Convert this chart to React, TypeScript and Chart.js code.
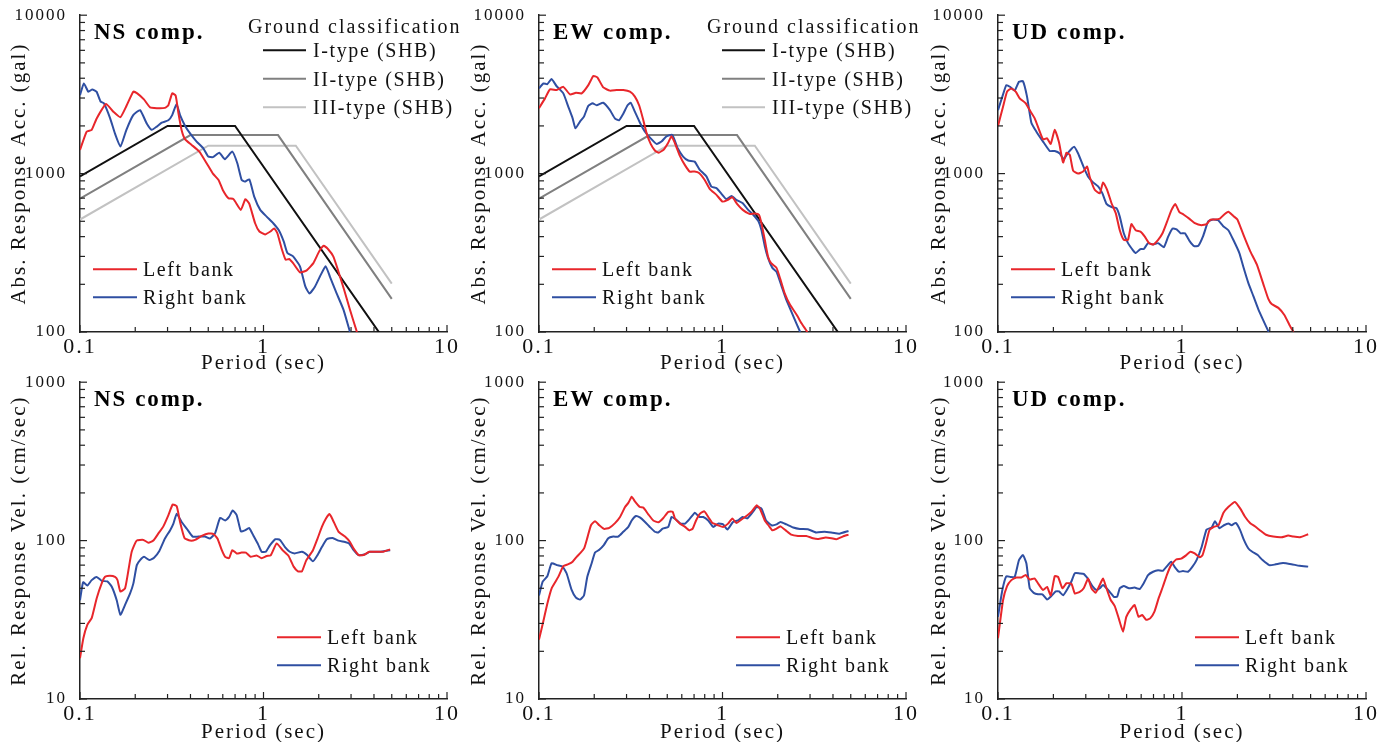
import React, { useEffect, useRef } from 'react';
import { Chart, registerables } from 'chart.js';
Chart.register(...registerables);

type Pt = [number, number];

const FONT = '"Liberation Serif", "Times New Roman", serif';

// ---- tick values & labels ----
const periodTicks = [0.1, 0.2, 0.3, 0.4, 0.5, 0.6, 0.7, 0.8, 0.9, 1, 2, 3, 4, 5, 6, 7, 8, 9, 10];
const periodMajor = [0.1, 1, 10];
const accTicks = [100, 200, 300, 400, 500, 600, 700, 800, 900, 1000, 2000, 3000, 4000, 5000, 6000, 7000, 8000, 9000, 10000];
const accMajor = [100, 1000, 10000];
const velTicks = [10, 20, 30, 40, 50, 60, 70, 80, 90, 100, 200, 300, 400, 500, 600, 700, 800, 900, 1000];
const velMajor = [10, 100, 1000];

// ---- SHB design spectra (corner points) ----
const shbType1: Pt[] = [[0.1, 961], [0.3, 2000], [0.7, 2000], [5, 76.4]];
const shbType2: Pt[] = [[0.1, 694], [0.4, 1750], [1.2, 1750], [5, 162]];
const shbType3: Pt[] = [[0.1, 513], [0.5, 1500], [1.5, 1500], [5, 202]];

// ---- Absolute response acceleration (gal) ----
const nsAccLeft: Pt[] = [[0.1,1410],[0.1087,1840],[0.1158,1890],[0.1233,2230],[0.1386,2750],[0.152,2460],[0.166,2270],[0.179,2670],[0.1954,3290],[0.205,3210],[0.223,2940],[0.241,2620],[0.262,2590],[0.29,2600],[0.303,2700],[0.318,3210],[0.332,3110],[0.344,2400],[0.358,1880],[0.374,1645],[0.406,1517],[0.447,1377],[0.49,1162],[0.53,1000],[0.569,912],[0.6,789],[0.644,700],[0.686,690],[0.752,590],[0.797,690],[0.837,644],[0.9,486],[0.95,431],[1.02,413],[1.09,431],[1.144,451],[1.19,420],[1.254,338],[1.32,286],[1.38,289],[1.45,272],[1.58,238],[1.72,245],[1.87,272],[2.01,322],[2.13,350],[2.25,333],[2.4,300],[2.56,241],[2.75,185],[2.96,138],[3.23,100]];
const nsAccRight: Pt[] = [[0.1,3130],[0.105,3706],[0.111,3290],[0.1167,3400],[0.123,3290],[0.1296,2846],[0.135,2780],[0.146,2233],[0.155,1794],[0.166,1480],[0.179,1890],[0.195,2340],[0.2125,2516],[0.231,2073],[0.246,1890],[0.262,1980],[0.279,2096],[0.303,2170],[0.318,2340],[0.336,2750],[0.351,2340],[0.374,2000],[0.398,1794],[0.432,1593],[0.47,1445],[0.5,1281],[0.53,1270],[0.574,1356],[0.616,1233],[0.676,1377],[0.72,1162],[0.76,912],[0.79,890],[0.837,920],[0.89,716],[0.96,590],[1.04,535],[1.13,486],[1.21,440],[1.29,372],[1.35,315],[1.45,300],[1.58,260],[1.69,194],[1.78,175],[1.91,194],[2.03,224],[2.18,260],[2.3,224],[2.5,176],[2.73,138],[2.96,100]];
const ewAccLeft: Pt[] = [[0.1,2590],[0.1078,2985],[0.1148,3400],[0.1248,3370],[0.1357,3530],[0.1475,3160],[0.159,3240],[0.1708,3210],[0.1857,3620],[0.1977,4130],[0.208,4050],[0.224,3500],[0.2436,3340],[0.265,3370],[0.288,3370],[0.313,3290],[0.333,3060],[0.352,2680],[0.37,2180],[0.386,1794],[0.406,1540],[0.428,1400],[0.45,1356],[0.479,1420],[0.505,1560],[0.527,1720],[0.55,1560],[0.585,1300],[0.623,1135],[0.663,1030],[0.705,1030],[0.745,1010],[0.8,912],[0.854,797],[0.927,734],[1.0,666],[1.07,683],[1.13,710],[1.2,644],[1.29,590],[1.4,557],[1.5,560],[1.58,550],[1.63,486],[1.7,382],[1.77,300],[1.84,272],[1.97,254],[2.07,214],[2.18,176],[2.33,149],[2.54,128],[2.7,113],[2.9,100]];
const ewAccRight: Pt[] = [[0.1,3450],[0.1056,3706],[0.111,3670],[0.117,3950],[0.1248,3560],[0.1357,3210],[0.1445,2640],[0.1525,2233],[0.158,1930],[0.1673,2130],[0.1758,2290],[0.1857,2680],[0.196,2780],[0.206,2700],[0.224,2800],[0.2436,2516],[0.259,2233],[0.273,2170],[0.288,2390],[0.304,2700],[0.316,2800],[0.333,2460],[0.355,2096],[0.378,1840],[0.406,1670],[0.437,1540],[0.465,1593],[0.495,1720],[0.533,1756],[0.57,1445],[0.61,1281],[0.65,1210],[0.705,1190],[0.75,1060],[0.817,960],[0.87,827],[0.927,810],[0.983,750],[1.05,690],[1.12,723],[1.19,683],[1.29,650],[1.38,590],[1.47,550],[1.57,500],[1.63,440],[1.7,348],[1.77,294],[1.87,254],[1.97,240],[2.1,194],[2.22,161],[2.43,126],[2.65,100]];
const udAccLeft: Pt[] = [[0.1,2000],[0.1065,2640],[0.112,3290],[0.118,3450],[0.1248,3290],[0.1312,2985],[0.1414,2780],[0.1487,2516],[0.1583,2233],[0.1672,1890],[0.1757,1645],[0.1848,1670],[0.1935,1540],[0.2034,1890],[0.2147,1570],[0.2258,1175],[0.2356,1356],[0.2456,1312],[0.256,1045],[0.2726,1000],[0.2902,1030],[0.305,1107],[0.315,956],[0.3356,790],[0.3573,750],[0.3726,880],[0.3918,790],[0.4139,650],[0.4368,561],[0.459,439],[0.4826,382],[0.5089,382],[0.5308,480],[0.56,439],[0.5944,430],[0.6277,400],[0.6624,364],[0.6967,357],[0.7417,382],[0.7835,420],[0.8306,500],[0.8774,590],[0.9185,644],[0.9655,574],[1.023,550],[1.094,520],[1.175,486],[1.277,472],[1.36,480],[1.431,513],[1.511,513],[1.608,520],[1.69,550],[1.786,574],[1.9,540],[2.0,513],[2.11,439],[2.23,373],[2.35,323],[2.55,267],[2.77,200],[2.95,161],[3.07,150],[3.34,142],[3.6,128],[3.85,110],[4.04,100]];
const udAccRight: Pt[] = [[0.1,2516],[0.1056,3060],[0.111,3620],[0.1167,3520],[0.1232,3340],[0.13,3800],[0.1367,3830],[0.1438,3060],[0.1518,2096],[0.1617,1840],[0.1757,1593],[0.191,1390],[0.2034,1390],[0.2166,1340],[0.2277,1233],[0.2405,1356],[0.2592,1480],[0.2726,1340],[0.2902,1120],[0.3089,956],[0.3288,880],[0.35,830],[0.3694,750],[0.3887,644],[0.414,615],[0.4405,605],[0.459,535],[0.4826,420],[0.5089,364],[0.5419,328],[0.56,315],[0.5944,334],[0.62,334],[0.654,364],[0.6967,357],[0.7417,364],[0.7966,343],[0.8411,400],[0.8886,450],[0.935,445],[0.982,420],[1.037,420],[1.103,373],[1.165,348],[1.226,350],[1.304,405],[1.389,500],[1.477,513],[1.57,508],[1.675,465],[1.786,439],[1.9,382],[2.05,315],[2.15,260],[2.29,205],[2.44,169],[2.6,139],[2.77,118],[2.96,100]];

// ---- Relative response velocity (cm/sec) ----
const nsVelLeft: Pt[] = [[0.1,18.1],[0.1043,24.2],[0.1096,29.4],[0.1158,32.4],[0.1233,43.3],[0.1313,53.7],[0.1369,59.1],[0.1457,60],[0.1552,59],[0.16,56.4],[0.166,47.7],[0.176,50],[0.1836,65],[0.1913,85],[0.2036,100],[0.2216,101],[0.236,97],[0.251,100],[0.2675,111],[0.2846,123],[0.3033,145],[0.32,169],[0.3365,165],[0.351,131],[0.371,104],[0.398,100],[0.4238,101],[0.4606,107],[0.5009,111],[0.534,110],[0.561,103],[0.5926,87],[0.6178,79],[0.649,77.5],[0.6763,87],[0.714,83],[0.7597,84],[0.8022,84],[0.8504,79],[0.9163,80.6],[0.9762,77.5],[1.04,80],[1.094,80.6],[1.18,96],[1.27,87],[1.37,80],[1.46,68.5],[1.54,64],[1.62,64],[1.71,75],[1.86,87],[1.97,103],[2.08,122],[2.19,138],[2.29,147],[2.38,136],[2.56,114],[2.78,106],[2.96,98],[3.1,89],[3.3,81],[3.5,81],[3.77,85],[4.13,85],[4.49,85],[4.9,88]];
const nsVelRight: Pt[] = [[0.1,42],[0.104,54.6],[0.1096,52],[0.1158,56.3],[0.1233,59],[0.1313,55.7],[0.141,55.2],[0.149,51.1],[0.1585,42],[0.166,34],[0.176,39.3],[0.1875,46.4],[0.1954,53.7],[0.204,70],[0.2125,75.3],[0.2233,79],[0.2388,75.3],[0.2533,78],[0.2706,86],[0.2903,103],[0.3095,116],[0.3229,128],[0.3366,148],[0.358,131],[0.3815,119],[0.411,106],[0.441,106],[0.4795,106],[0.5105,103],[0.5442,111],[0.58,139],[0.6178,134],[0.649,141],[0.679,155],[0.714,145],[0.7535,114],[0.7921,116],[0.8357,120],[0.8865,106],[0.9371,94],[0.976,85],[1.03,85],[1.088,94],[1.16,102],[1.23,101],[1.31,91],[1.39,85],[1.48,83],[1.62,85],[1.73,81],[1.86,74],[1.97,81],[2.08,91],[2.21,102],[2.38,104],[2.56,100],[2.78,98],[2.93,96],[3.1,87],[3.3,81],[3.58,82],[3.8,85],[4.3,85],[4.9,87]];
const ewVelLeft: Pt[] = [[0.1,23.7],[0.1056,31],[0.111,40],[0.1172,50],[0.1274,59],[0.1357,69],[0.1445,71],[0.1525,73.6],[0.1604,79],[0.1687,83.9],[0.1766,90],[0.184,105.6],[0.192,125],[0.202,132.7],[0.213,125],[0.226,118.6],[0.2416,120.4],[0.2596,129],[0.2764,141],[0.2944,163],[0.3068,173],[0.32,189],[0.333,177],[0.3546,163],[0.37,161.6],[0.394,146.6],[0.4196,134],[0.447,130.5],[0.476,139],[0.5066,152],[0.5348,152],[0.551,138],[0.5866,128],[0.625,122],[0.66,116],[0.688,119],[0.7176,134],[0.7543,148],[0.7961,153],[0.8363,141],[0.8824,129],[0.9465,125],[1.007,122],[1.0723,128],[1.132,138],[1.19,129],[1.27,136],[1.35,143],[1.44,152],[1.534,167],[1.6,159],[1.7,134],[1.78,125],[1.87,116],[1.97,119],[2.07,123],[2.21,116],[2.37,109],[2.58,107],[2.86,107],[3.11,103.5],[3.33,102.5],[3.65,104.5],[3.92,103.5],[4.17,102],[4.52,106],[4.86,109]];
const ewVelRight: Pt[] = [[0.1,45],[0.1047,55],[0.111,59.6],[0.1172,72],[0.1258,70],[0.1346,68.5],[0.1415,62],[0.1506,48.8],[0.159,43.6],[0.1673,42.4],[0.1758,45],[0.1832,59],[0.1936,72],[0.202,84],[0.213,87.5],[0.226,94],[0.2385,103.5],[0.254,106],[0.27,106],[0.288,113.7],[0.3068,122],[0.32,134],[0.3375,143],[0.3546,140],[0.377,131.7],[0.4016,122],[0.4277,113.7],[0.4466,112.5],[0.4719,119],[0.5066,122],[0.5279,141],[0.5574,136],[0.5905,128],[0.625,128],[0.6652,138],[0.7077,150],[0.747,141],[0.7856,141],[0.8363,134],[0.8899,122],[0.9465,128],[1.007,126.5],[1.063,117.5],[1.141,131],[1.215,134],[1.284,141],[1.363,138],[1.453,150],[1.534,163],[1.633,159],[1.726,134],[1.85,125],[1.97,126.5],[2.07,131],[2.23,126.5],[2.43,121],[2.64,118.5],[2.92,118],[3.24,112.5],[3.6,113.7],[3.99,112],[4.33,110.6],[4.86,115]];
const udVelLeft: Pt[] = [[0.1,24.2],[0.1065,42],[0.112,51.6],[0.1182,56.3],[0.1258,58.5],[0.134,58.5],[0.1414,60.6],[0.1487,56.8],[0.1583,57.6],[0.1672,52.5],[0.1757,48.8],[0.1848,51],[0.1935,45],[0.2034,59.6],[0.212,59],[0.2239,50],[0.2356,53.8],[0.2508,53.3],[0.2614,46.4],[0.2781,47.5],[0.2922,50],[0.3089,57.6],[0.322,50],[0.3394,46.8],[0.3573,52.5],[0.3726,57.6],[0.3887,50],[0.4085,42.5],[0.4311,38.6],[0.4531,32.3],[0.478,26.6],[0.498,33],[0.5255,36.8],[0.5524,39.2],[0.5807,33],[0.6075,33.9],[0.6387,31.6],[0.6715,32.3],[0.7083,35.6],[0.7466,43.3],[0.7866,51.1],[0.8269,60.6],[0.8724,70],[0.9294,76],[0.99,77],[1.0558,81],[1.11,85],[1.1724,83],[1.25,78.4],[1.293,81],[1.35,96],[1.41,116.5],[1.49,122],[1.58,125],[1.68,150],[1.79,163.5],[1.94,175.5],[2.07,159.8],[2.2,141.5],[2.35,128.7],[2.5,122.7],[2.66,115.9],[2.86,108.9],[3.13,106],[3.47,105],[3.78,107.6],[4.03,106],[4.38,105],[4.85,109.6]];
const udVelRight: Pt[] = [[0.1,33],[0.1056,48.8],[0.111,59.6],[0.1167,59],[0.1232,59],[0.13,75.3],[0.1367,81],[0.1426,72],[0.1487,50],[0.1563,46.8],[0.165,45.8],[0.1742,45.8],[0.1848,42.5],[0.1951,44.7],[0.206,47.8],[0.2147,47.8],[0.2258,45.2],[0.2383,49.5],[0.2508,55.4],[0.2614,62.3],[0.2781,62],[0.2922,61.6],[0.3089,57.1],[0.3257,51.6],[0.3427,48.8],[0.3573,50],[0.3726,52.5],[0.3887,50],[0.4085,46.8],[0.4259,44.2],[0.444,44.2],[0.459,50],[0.4826,51.6],[0.5153,50],[0.5524,50.5],[0.5892,49.5],[0.6194,53.8],[0.654,60.6],[0.6967,63.6],[0.7417,65],[0.7866,64.5],[0.8381,70],[0.8724,73.6],[0.9102,68.5],[0.9614,63.6],[1.0123,64.2],[1.0786,63.6],[1.14,68.5],[1.2,75.3],[1.28,91.5],[1.36,117.5],[1.45,121],[1.51,132.4],[1.6,119.7],[1.69,125],[1.79,128],[1.86,125],[1.96,129.3],[2.07,116.5],[2.17,101],[2.29,89.5],[2.41,85],[2.58,81],[2.74,75.3],[2.98,70],[3.2,70.6],[3.54,72.2],[3.93,71],[4.35,69.3],[4.85,68.5]];

// ---- labels ----
const compTitles = ['NS comp.', 'EW comp.', 'UD comp.'];
const bankLabels = ['Left bank', 'Right bank'];
const shbLabels = ['I-type (SHB)', 'II-type (SHB)', 'III-type (SHB)'];
const shbHeader = 'Ground classification';
const accTitle = 'Abs. Response Acc. (gal)';
const velTitle = 'Rel. Response Vel. (cm/sec)';
const periodTitle = 'Period (sec)';

const RED = '#e8262b';
const BLUE = '#2f4fa2';
const SHB_COLORS = ['#111111', '#808080', '#c2c2c2'];

interface Series { label: string; data: Pt[]; color: string; tension: number }
interface PanelCfg {
  left: number; top: number; width: number; yWidth: number; padRight: number; padTop: number;
  yMin: number; yMax: number; yTicks: number[]; yMajor: number[]; yTitle: string; comp: string;
  series: Series[]; shb: boolean; bankLeg: { dx: number; dy: number };
  xTitleLH: number;
}

const CANVAS_H = 375;
const cols = [
  { left: 0, width: 470, yWidth: 80, padRight: 23 },
  { left: 460, width: 470, yWidth: 79, padRight: 24 },
  { left: 920, width: 471, yWidth: 78, padRight: 25 },
];

function bankSeries(l: Pt[], r: Pt[]): Series[] {
  return [
    { label: bankLabels[0], data: l, color: RED, tension: 0.15 },
    { label: bankLabels[1], data: r, color: BLUE, tension: 0.15 },
  ];
}
const shbSeries: Series[] = [
  { label: shbLabels[0], data: shbType1, color: SHB_COLORS[0], tension: 0 },
  { label: shbLabels[1], data: shbType2, color: SHB_COLORS[1], tension: 0 },
  { label: shbLabels[2], data: shbType3, color: SHB_COLORS[2], tension: 0 },
];

const accData = [[nsAccLeft, nsAccRight], [ewAccLeft, ewAccRight], [udAccLeft, udAccRight]];
const velData = [[nsVelLeft, nsVelRight], [ewVelLeft, ewVelRight], [udVelLeft, udVelRight]];

const panels: PanelCfg[] = [];
for (let i = 0; i < 3; i++) {
  panels.push({
    ...cols[i], top: 0, padTop: 15,
    yMin: 100, yMax: 10000, yTicks: accTicks, yMajor: accMajor, yTitle: accTitle, comp: compTitles[i],
    series: [...bankSeries(accData[i][0], accData[i][1]), ...(i < 2 ? shbSeries : [])],
    shb: i < 2, bankLeg: { dx: 13, dy: 254 }, xTitleLH: 1.1,
  });
}
for (let i = 0; i < 3; i++) {
  panels.push({
    ...cols[i], top: 367, padTop: 15,
    yMin: 10, yMax: 1000, yTicks: velTicks, yMajor: velMajor, yTitle: velTitle, comp: compTitles[i],
    series: bankSeries(velData[i][0], velData[i][1]),
    shb: false, bankLeg: { dx: 197, dy: 255 }, xTitleLH: 0.95,
  });
}

const near = (a: number, list: number[]) => list.some((b) => Math.abs(a - b) < 1e-9 * Math.max(1, b));

function Panel({ cfg }: { cfg: PanelCfg }) {
  const ref = useRef<HTMLCanvasElement>(null);
  useEffect(() => {
    const canvas = ref.current!;
    const decor = {
      id: 'decor',
      beforeLayout(chart: any) { chart.ctx.letterSpacing = '2px'; },
      beforeDraw(chart: any) { chart.ctx.letterSpacing = '2px'; },
      afterDraw(chart: any) {
        const ctx = chart.ctx;
        const a = chart.chartArea;
        const xs = chart.scales.x;
        const ys = chart.scales.y;
        ctx.save();
        // inward ticks
        ctx.strokeStyle = '#222';
        ctx.lineWidth = 1.2;
        for (const v of periodTicks) {
          const px = xs.getPixelForValue(v);
          const len = near(v, periodMajor) ? 7 : 5;
          ctx.beginPath(); ctx.moveTo(px, a.bottom); ctx.lineTo(px, a.bottom - len); ctx.stroke();
        }
        for (const v of cfg.yTicks) {
          const py = ys.getPixelForValue(v);
          const len = near(v, cfg.yMajor) ? 7 : 5;
          ctx.beginPath(); ctx.moveTo(a.left, py); ctx.lineTo(a.left + len, py); ctx.stroke();
        }
        // component title
        ctx.fillStyle = '#000';
        ctx.textAlign = 'left';
        ctx.textBaseline = 'alphabetic';
        ctx.letterSpacing = '2px';
        ctx.font = `bold 23px ${FONT}`;
        ctx.fillText(cfg.comp, a.left + 14, a.top + 24);
        // legends
        const sets = chart.data.datasets;
        const drawItem = (ds: any, x1: number, x2: number, tx: number, y: number) => {
          ctx.strokeStyle = ds.borderColor;
          ctx.lineWidth = 2;
          ctx.beginPath(); ctx.moveTo(x1, y); ctx.lineTo(x2, y); ctx.stroke();
          ctx.fillStyle = '#111';
          ctx.font = `20px ${FONT}`;
          ctx.letterSpacing = '1.6px';
          ctx.fillText(ds.label, tx, y + 7);
        };
        const bx = a.left + cfg.bankLeg.dx;
        const by = a.top + cfg.bankLeg.dy;
        drawItem(sets[0], bx, bx + 44, bx + 50, by);
        drawItem(sets[1], bx, bx + 44, bx + 50, by + 28);
        if (cfg.shb) {
          ctx.fillStyle = '#111';
          ctx.font = `20px ${FONT}`;
          ctx.letterSpacing = '2px';
          ctx.fillText(shbHeader, a.left + 168, a.top + 18);
          for (let k = 0; k < 3; k++) {
            drawItem(sets[2 + k], a.left + 183, a.left + 226, a.left + 233, a.top + 35 + 28.5 * k);
          }
        }
        ctx.restore();
      },
    };
    const chart = new Chart(canvas, {
      type: 'line',
      data: {
        datasets: cfg.series.map((s) => ({
          label: s.label,
          data: s.data.map(([x, y]) => ({ x, y })),
          borderColor: s.color,
          backgroundColor: s.color,
          borderWidth: 2,
          pointRadius: 0,
          tension: s.tension,
          fill: false,
        })),
      },
      options: {
        responsive: false,
        animation: false,
        devicePixelRatio: 1,
        parsing: false as any,
        layout: { padding: { top: cfg.padTop, right: cfg.padRight, bottom: 0, left: 0 } },
        plugins: { legend: { display: false }, tooltip: { enabled: false } },
        scales: {
          x: {
            type: 'logarithmic', min: 0.1, max: 10,
            afterFit: (s: any) => { s.height = CANVAS_H - 332; },
            afterBuildTicks: (s: any) => { s.ticks = periodTicks.map((v) => ({ value: v })); },
            grid: { display: false },
            border: { display: true, color: '#222', width: 1.5 },
            ticks: {
              autoSkip: false, maxRotation: 0, minRotation: 0, padding: -6, color: '#111',
              font: { family: FONT, size: 22 },
              callback: (v: any) => (near(Number(v), periodMajor) ? String(Number(v)) : ''),
            },
            title: {
              display: true, text: periodTitle, color: '#111',
              font: { family: FONT, size: 21, lineHeight: cfg.xTitleLH }, padding: 0,
            },
          },
          y: {
            type: 'logarithmic', min: cfg.yMin, max: cfg.yMax,
            afterFit: (s: any) => { s.width = cfg.yWidth; },
            afterBuildTicks: (s: any) => { s.ticks = cfg.yTicks.map((v) => ({ value: v })); },
            grid: { display: false },
            border: { display: true, color: '#222', width: 1.5 },
            ticks: {
              autoSkip: false, padding: 5, color: '#111',
              font: { family: FONT, size: 17 },
              callback: (v: any) => (near(Number(v), cfg.yMajor) ? String(Number(v)) : ''),
            },
            title: {
              display: true, text: cfg.yTitle, color: '#111',
              font: { family: FONT, size: 21, lineHeight: 1.2 }, padding: { top: 7, bottom: 0 },
            },
          },
        },
      } as any,
      plugins: [decor],
    });
    return () => chart.destroy();
  }, [cfg]);
  return (
    <canvas
      ref={ref}
      width={cfg.width}
      height={CANVAS_H}
      style={{ position: 'absolute', left: cfg.left, top: cfg.top, width: cfg.width, height: CANVAS_H }}
    />
  );
}

export default function App() {
  return (
    <div style={{ position: 'fixed', left: 0, top: 0, width: 1391, height: 745, background: '#fff', overflow: 'hidden' }}>
      {panels.map((p, i) => (
        <Panel key={i} cfg={p} />
      ))}
    </div>
  );
}
